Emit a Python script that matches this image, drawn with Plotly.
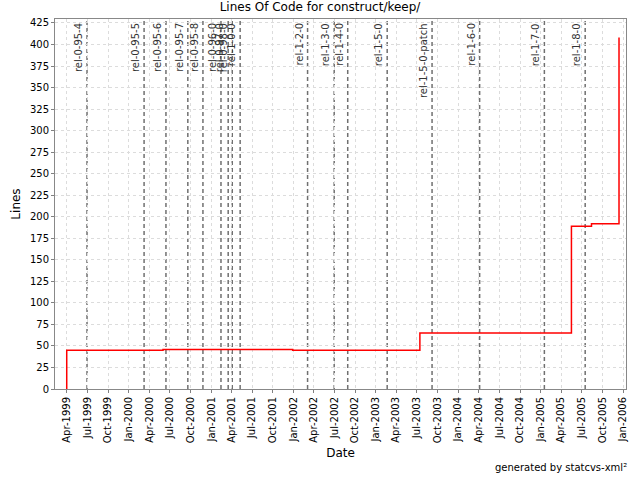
import plotly.graph_objects as go

# lines of code over time (step changes)
loc_dates = ['1999-04-01', '1999-04-01', '2000-06-01', '2001-12-28', '2003-07-15',
             '2005-05-17', '2005-08-14', '2005-12-14']
loc_values = [0, 45, 46, 45, 65, 189, 192, 408]

# release tags
tag_names = ['rel-0-95-4', 'rel-0-95-5', 'rel-0-95-6', 'rel-0-95-7', 'rel-0-95-8',
             'rel-0-96-0', 'rel-0-97-0', 'rel-0-98-0', 'rel-1-0-0', 'rel-1-2-0',
             'rel-1-3-0', 'rel-1-4-0', 'rel-1-5-0', 'rel-1-5-0-patch', 'rel-1-6-0',
             'rel-1-7-0', 'rel-1-8-0']
tag_dates = ['1999-06-30', '2000-03-09', '2000-06-14', '2000-09-19', '2000-11-25',
             '2001-02-13', '2001-03-17', '2001-04-04', '2001-05-09', '2002-03-04',
             '2002-06-30', '2002-08-29', '2003-02-20', '2003-09-07', '2004-04-05',
             '2005-01-17', '2005-07-17']

font = 'DejaVu Sans'

fig = go.Figure()

for name, d in zip(tag_names, tag_dates):
    fig.add_vline(x=d, line_color='#707070', line_width=1.5, line_dash='4px,3px', layer='below')
    fig.add_annotation(x=d, y=1, xref='x', yref='paper', text=name, showarrow=False,
                       textangle=-90, xanchor='right', yanchor='top', xshift=-1, yshift=-2,
                       font=dict(family=font, size=10, color='#333333'))

fig.add_trace(go.Scatter(x=loc_dates, y=loc_values, mode='lines', line_shape='hv',
                         line=dict(color='#ff0000', width=1.5), showlegend=False))

fig.update_layout(
    width=640, height=480,
    margin=dict(l=55, r=12, t=19, b=91),
    paper_bgcolor='white', plot_bgcolor='white',
    title=dict(text='Lines Of Code for construct/keep/', x=0.5, y=0.994, yanchor='top',
               font=dict(family=font, size=12, color='#000000')),
    font=dict(family=font, size=10, color='#000000'),
)

fig.update_xaxes(range=['1999-02-08', '2006-01-14'], tick0='1999-04-01', dtick='M3',
                 tickformat='%b-%Y', tickangle=-90, ticks='outside', ticklen=3,
                 tickcolor='#808080', showgrid=True, gridcolor='#dcdcdc', griddash='3px,3px',
                 gridwidth=1, showline=True, linecolor='#888888', linewidth=1, mirror=True,
                 title=dict(text='Date', font=dict(family=font, size=12), standoff=6),
                 tickfont=dict(family=font, size=10))

fig.update_yaxes(range=[0, 429.6], dtick=25, tick0=0, ticks='outside', ticklen=3,
                 tickcolor='#808080', showgrid=True, gridcolor='#dcdcdc', griddash='3px,3px',
                 gridwidth=1, showline=True, linecolor='#888888', linewidth=1, mirror=True,
                 zeroline=False,
                 title=dict(text='Lines', font=dict(family=font, size=12), standoff=6),
                 tickfont=dict(family=font, size=10))

fig.add_annotation(x=1, y=0, xref='paper', yref='paper', xanchor='right', yanchor='bottom',
                   text='generated by statcvs-xml²', showarrow=False, xshift=3, yshift=-86,
                   font=dict(family=font, size=10, color='#000000'))

fig.write_html('out.html', config={'displayModeBar': False},
               post_script="document.body.style.margin='0';")
